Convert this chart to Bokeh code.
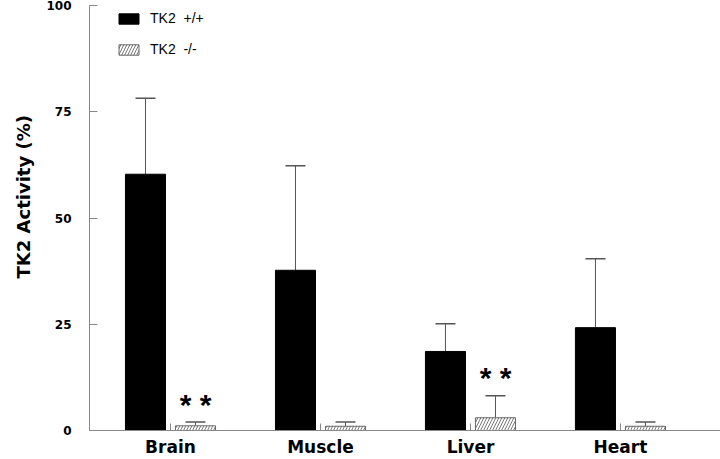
from bokeh.plotting import figure
from bokeh.models import (ColumnDataSource, Range1d, FixedTicker, Whisker, TeeHead,
                          Legend, LegendItem, Title)
from bokeh.core.properties import value
from bokeh.embed import file_html
from bokeh.resources import INLINE

# ---- data ----
categories = ["Brain", "Muscle", "Liver", "Heart"]
wt_mean = [60.3, 37.7, 18.6, 24.2]      # TK2 +/+
wt_sd = [17.9, 24.6, 6.5, 16.2]
ko_mean = [1.1, 1.0, 3.0, 1.0]          # TK2 -/-
ko_sd = [0.9, 1.0, 5.2, 1.0]
significant = [True, False, True, False]
y_ticks = [0, 25, 50, 75, 100]

idx = list(range(len(categories)))
off = 0.1667
bw = 0.267

wt = ColumnDataSource(dict(
    x=[i - off for i in idx], top=wt_mean,
    up=[m + s for m, s in zip(wt_mean, wt_sd)]))
ko = ColumnDataSource(dict(
    x=[i + off for i in idx], top=ko_mean,
    up=[m + s for m, s in zip(ko_mean, ko_sd)]))

sig_x = [i + off for i, s in zip(idx, significant) if s]
sig_y = [m + s + 5.4 for m, s, g in zip(ko_mean, ko_sd, significant) if g]
sig = ColumnDataSource(dict(x=sig_x, y=sig_y, t=["* *"] * len(sig_x)))

p = figure(width=720, height=459, output_backend="svg", toolbar_location=None,
           x_range=Range1d(-0.54, 3.667), y_range=Range1d(0, 100),
           min_border_left=89, min_border_right=0, min_border_top=5,
           min_border_bottom=26)
p.outline_line_color = None
p.xgrid.visible = False
p.ygrid.visible = False
p.background_fill_color = "white"
p.border_fill_color = "white"

r_wt = p.vbar(x="x", top="top", width=bw, source=wt, fill_color="black",
              line_color="black")
r_ko = p.vbar(x="x", top="top", width=bw, source=ko, fill_color="white",
              line_color="#666666", line_width=1,
              hatch_pattern="right_diagonal_line", hatch_color="#777777",
              hatch_scale=6, hatch_weight=1)

for src in (wt, ko):
    w = Whisker(source=src, base="x", lower="top", upper="up",
                dimension="height", line_color="#555555", line_width=1,
                upper_head=TeeHead(size=20, line_color="#555555", line_width=1.5),
                lower_head=None)
    p.add_layout(w)

p.text(x="x", y="y", text="t", source=sig, text_align="center",
       text_baseline="middle", y_offset=5, text_font=value("Liberation Sans"),
       text_font_style="bold", text_font_size="30px", text_color="black")

# axes
ax = p.xaxis[0]
ax.ticker = FixedTicker(ticks=idx)
ax.major_label_overrides = {i: c for i, c in zip(idx, categories)}
ax.major_tick_in = 7
ax.major_tick_out = 0
ax.minor_tick_line_color = None
ax.axis_line_color = "#888888"
ax.major_tick_line_color = "#888888"
ax.major_label_standoff = 6
ax.major_label_text_font = "DejaVu Sans"
ax.major_label_text_font_style = "bold"
ax.major_label_text_font_size = "17px"
ax.major_label_text_color = "black"

ay = p.yaxis[0]
ay.ticker = FixedTicker(ticks=y_ticks)
ay.major_tick_in = 8
ay.major_tick_out = 0
ay.minor_tick_line_color = None
ay.axis_line_color = "#888888"
ay.major_tick_line_color = "#888888"
ay.major_label_standoff = 18
ay.major_label_text_font = "DejaVu Sans"
ay.major_label_text_font_style = "bold"
ay.major_label_text_font_size = "12px"
ay.major_label_text_color = "black"

ytitle = Title(text="TK2  Activity  (%)", align="right", offset=97,
               standoff=20, text_font="DejaVu Sans", text_font_style="bold",
               text_font_size="18px", text_color="black")
p.add_layout(ytitle, "left")

legend = Legend(items=[LegendItem(label="TK2  +/+", renderers=[r_wt]),
                       LegendItem(label="TK2  -/-", renderers=[r_ko])],
                location=(27, 373), glyph_width=25, glyph_height=13,
                label_standoff=9, spacing=15, padding=0, margin=0,
                border_line_color=None, background_fill_alpha=0,
                label_text_font="Liberation Sans", label_text_font_size="14px",
                label_text_color="black")
p.add_layout(legend)

open("out.html", "w").write(file_html(p, INLINE))
